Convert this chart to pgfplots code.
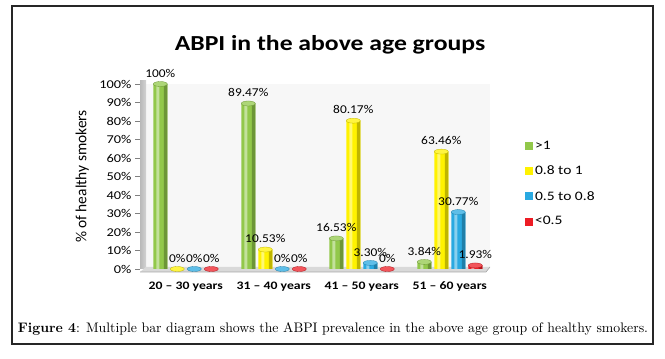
\documentclass[border=0pt]{standalone}
\usepackage{fontspec}
\newfontfamily\calfont{Carlito}[FakeStretch=1.2]
\newfontfamily\lblfont{Carlito}[FakeStretch=1.12]
\newfontfamily\calplain{Carlito}
\usepackage{graphicx}
\usepackage{pgfplots}
\pgfplotsset{compat=1.18}
\usepackage{pgfplotstable}
\usetikzlibrary{shapes.geometric}
\definecolor{cgreen}{HTML}{92C84A}
\definecolor{cyellow}{HTML}{FFF200}
\definecolor{cblue}{HTML}{29A9E1}
\definecolor{cred}{HTML}{ED1C24}

\pgfplotstableread{
x y lab
0 100 100
1 89.47 89.47
2 16.53 16.53
3 3.84 3.84
}\tA
\pgfplotstableread{
x y lab
0 0 0
1 10.53 10.53
2 80.17 80.17
3 63.46 63.46
}\tB
\pgfplotstableread{
x y lab
0 0 0
1 0 0
2 3.30 3.30
3 30.77 30.77
}\tC
\pgfplotstableread{
x y lab
0 0 0
1 0 0
2 0 0
3 1.93 1.93
}\tD

% #1 table, #2 colour, #3 bar shift, #4 dark strip shift, #5 legend text, #6 light strip shift
\newcommand{\cyl}[6]{%
\addplot[fill=#2, draw=none, bar shift=#3,
  legend image code/.code={\fill[#2] (0bp,-4bp) rectangle (8bp,4bp);}]
  table[x=x, y=y, meta=lab] {#1};
\addlegendentry{#5}
\addplot[forget plot, fill=#2!75!black, draw=none, bar shift=#4, bar width=3.5bp]
  table[x=x, y=y, meta=lab] {#1};
\addplot[forget plot, fill=#2!55!white, draw=none, bar shift=#6, bar width=3bp]
  table[x=x, y=y, meta=lab] {#1};
\addplot[forget plot, draw=none, fill=none, bar shift=#3,
  nodes near coords={},
  every node near coord/.append style={ellipse, fill=#2!75!white, draw=#2!75!black, line width=0.3bp,
     minimum width=14bp, minimum height=5bp, inner sep=0pt, anchor=center}]
  table[x=x, y=y, meta=lab] {#1};
}
\newcommand{\lab}[2]{%
\addplot[forget plot, draw=none, fill=none, bar shift=#2,
  nodes near coords={\pgfplotspointmeta\%},
  every node near coord/.append style={font=\lblfont\fontsize{12}{14}\selectfont, anchor=south, yshift=6bp, black, inner sep=0.5bp}]
  table[x=x, y=y, meta=lab] {#1};
}

\begin{document}
\begin{tikzpicture}
\useasboundingbox (0bp,0bp) rectangle (665bp,359bp);
\draw[line width=1.1bp, black!85] (12bp,15bp) rectangle (653bp,353bp);
\node[font=\calfont\bfseries\fontsize{21.5}{24}\selectfont] at (330bp,314bp) {ABPI in the above age groups};
\node at (333bp,30bp) {\resizebox{630bp}{!}{\textbf{Figure 4}: Multiple bar diagram shows the ABPI prevalence in the above age group of healthy smokers.}};
\begin{axis}[
 at={(140bp,90bp)}, anchor=south west, scale only axis,
 width=350bp, height=185bp,
 ymin=0, ymax=100, xmin=-0.52, xmax=3.457,
 ybar=3bp, bar width=14bp,
 axis line style={draw=none},
 axis background/.style={fill=gray!6},
 xtick={0,1,2,3},
 xticklabels={20 – 30 years, 31 – 40 years, 41 – 50 years, 51 – 60 years},
 x tick style={draw=none},
 ytick={0,10,...,100},
 yticklabels={0\%,10\%,20\%,30\%,40\%,50\%,60\%,70\%,80\%,90\%,100\%},
 y tick style={draw=gray, line width=0.6bp},
 tick align=outside, major tick length=5bp,
 ytick pos=left, xtick pos=bottom,
 yticklabel style={font=\calfont\fontsize{12}{14}\selectfont},
 xticklabel style={font=\calfont\bfseries\fontsize{11.5}{13}\selectfont, yshift=-4bp},
 ylabel={\% of healthy smokers},
 ylabel style={at={(axis description cs:-0.165,0.5)}, anchor=center, font=\calplain\fontsize{15.5}{17}\selectfont},
 point meta=explicit symbolic,
 legend style={at={(1.091,0.714)}, anchor=north west, draw=none, fill=none,
   font=\calfont\fontsize{13}{15}\selectfont, row sep=11bp, legend cell align=left},
 clip=false,
]
% wall and floor
\fill[left color=gray!55, right color=gray!35] (rel axis cs:0,0) rectangle ([xshift=6bp]rel axis cs:0,1.02);
\fill[gray!30] ([yshift=-3bp]rel axis cs:0,0) -- ([xshift=-4bp,yshift=-3bp]rel axis cs:1,0) -- ([yshift=2bp]rel axis cs:1,0) -- ([xshift=6bp,yshift=2bp]rel axis cs:0,0) -- cycle;
\draw[gray!70, line width=0.6bp] ([yshift=-3bp]rel axis cs:0,0) -- ([xshift=-4bp,yshift=-3bp]rel axis cs:1,0) -- ([yshift=2bp]rel axis cs:1,0);

\cyl{\tA}{cgreen}{-25.5bp}{-20.25bp}{>1}{-28bp}
\cyl{\tB}{cyellow}{-8.5bp}{-3.25bp}{0.8 to 1}{-11bp}
\cyl{\tC}{cblue}{8.5bp}{13.75bp}{0.5 to 0.8}{6bp}
\cyl{\tD}{cred}{25.5bp}{30.75bp}{<0.5}{23bp}
\lab{\tA}{-25.5bp}
\lab{\tB}{-8.5bp}
\lab{\tC}{8.5bp}
\lab{\tD}{25.5bp}
\end{axis}
\end{tikzpicture}
\end{document}
